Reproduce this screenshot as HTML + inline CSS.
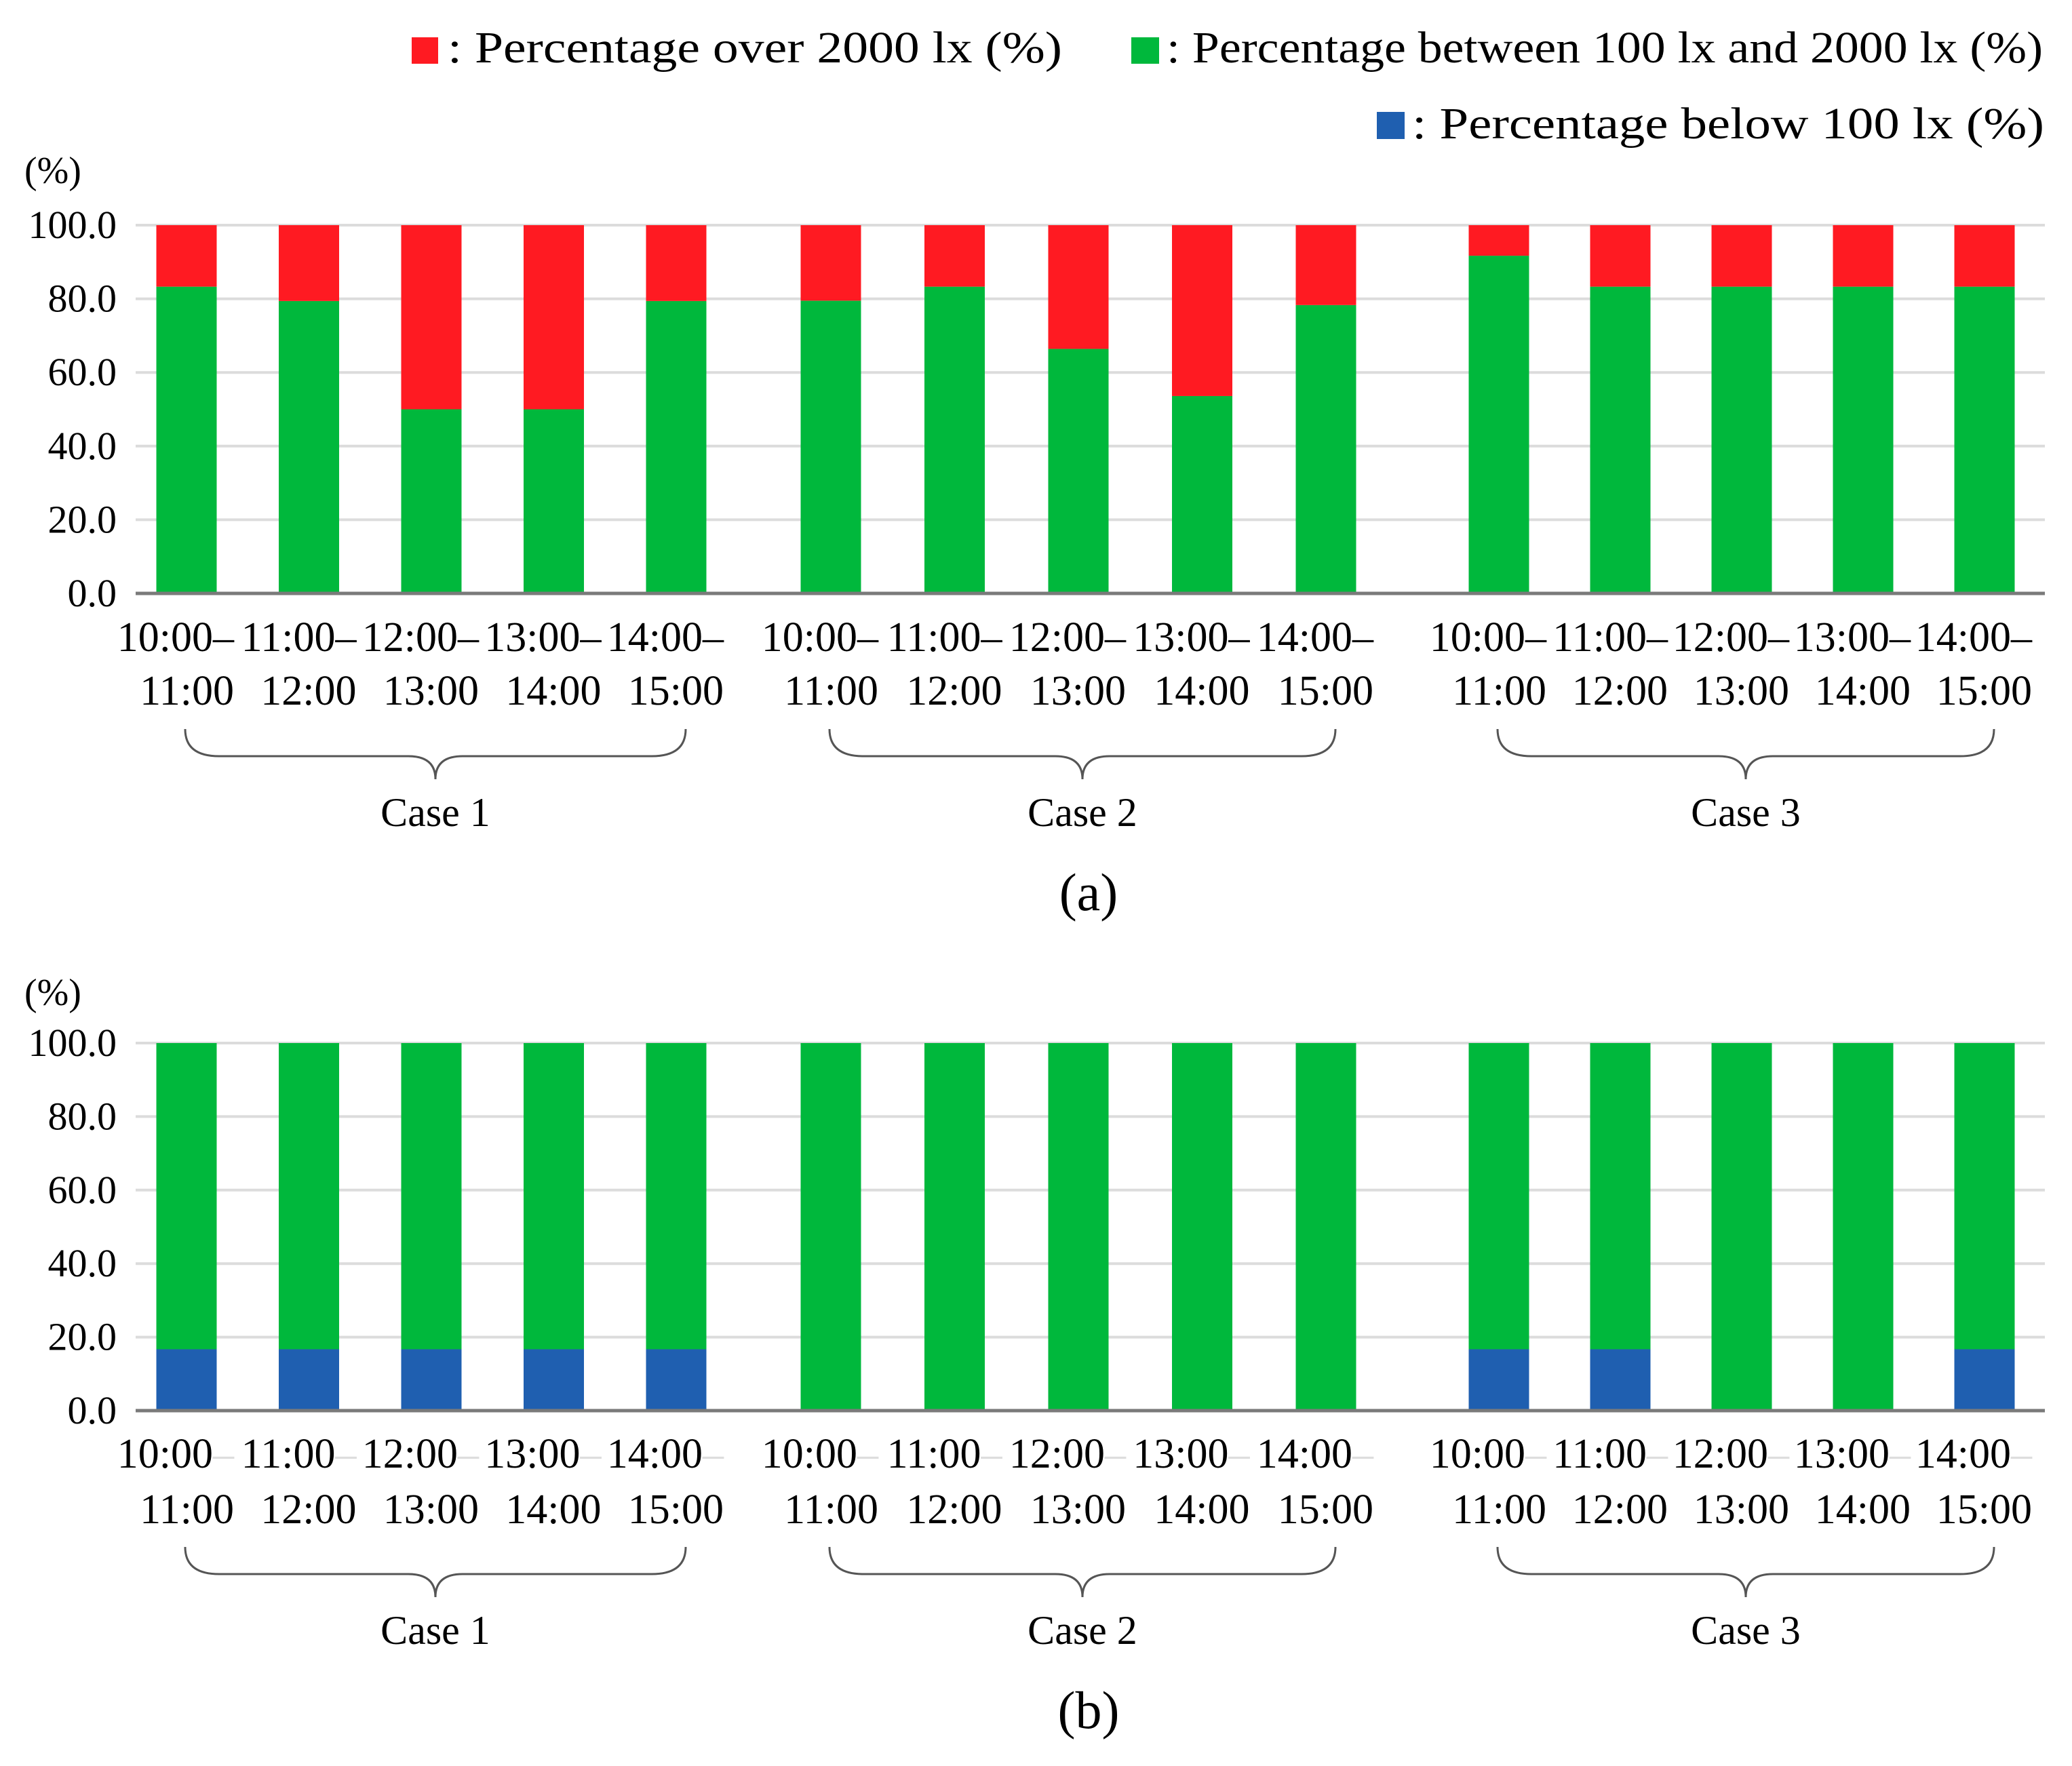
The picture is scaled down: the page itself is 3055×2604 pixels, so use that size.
<!DOCTYPE html>
<html><head><meta charset="utf-8"><style>
html,body{margin:0;padding:0;background:#fff;}
svg{display:block;font-family:"Liberation Serif",serif;}
</style></head><body>
<svg id="chart" width="3055" height="2604" viewBox="0 0 3055 2604" xmlns="http://www.w3.org/2000/svg">
<g>
 <rect x="607" y="55" width="39" height="39" fill="#ff1a22"/>
 <text x="660" y="92" font-size="66" textLength="906" lengthAdjust="spacingAndGlyphs">: Percentage over 2000 lx (%)</text>
 <rect x="1668" y="55" width="41" height="39" fill="#00b83c"/>
 <text x="1720" y="92" font-size="66" textLength="1292" lengthAdjust="spacingAndGlyphs">: Percentage between 100 lx and 2000 lx (%)</text>
 <rect x="2030" y="165" width="41" height="40" fill="#1f5fb0"/>
 <text x="2082" y="204" font-size="66" textLength="932" lengthAdjust="spacingAndGlyphs">: Percentage below 100 lx (%)</text>
</g>
</svg>
<script>
const categories = ["10:00","11:00","12:00","13:00","14:00"];
const categoryEnds = ["11:00","12:00","13:00","14:00","15:00"];
const caseNames = ["Case 1","Case 2","Case 3"];
const yTicks = [0,20,40,60,80,100];
const yTickLabels = ["0.0","20.0","40.0","60.0","80.0","100.0"];
// chart (a): green = between 100 and 2000 lx, red = over 2000 lx (remaining)
const aBetween = [83.3,79.4,50.0,50.0,79.4, 79.5,83.3,66.4,53.6,78.3, 91.7,83.3,83.3,83.3,83.3];
const aOver    = [16.7,20.6,50.0,50.0,20.6, 20.5,16.7,33.6,46.4,21.7, 8.3,16.7,16.7,16.7,16.7];
// chart (b): blue = below 100 lx, green = between
const bBelow   = [16.7,16.7,16.7,16.7,16.7, 0,0,0,0,0, 16.7,16.7,0,0,16.7];
const bBetween = [83.3,83.3,83.3,83.3,83.3, 100,100,100,100,100, 83.3,83.3,100,100,83.3];

const NS="http://www.w3.org/2000/svg";
const svg=document.getElementById('chart');
function mk(tag,attrs,parent){const e=document.createElementNS(NS,tag);for(const k in attrs)e.setAttribute(k,attrs[k]);(parent||svg).appendChild(e);return e;}
const RED="#ff1a22",GREEN="#00b83c",BLUE="#1f5fb0";
const plotX0=200, plotX1=3015, barW=89;
function groupStart(g){return g===0?275:(g===1?1225:2210);}
function groupStep(g){return g===0?180.5:(g===1?182.5:179);}
function xCenter(i){const g=Math.floor(i/5), j=i%5;return groupStart(g)+j*groupStep(g);}

function drawPanel(name,top,bottom,series,colors,lab1Y,lab2Y,braceY,caseY,pctY,dash,panelLabel,panelY){
  const yS=v=>bottom-(v/100)*(bottom-top);
  const g=mk('g',{});
  
  
  const pct=mk('text',{x:36,y:pctY,'font-size':56,'text-anchor':'start'},g);
  
  
  pct.textContent='(%)';
  yTicks.forEach((t,k)=>{
    if(t>0){const gl=mk('line',{x1:plotX0,x2:plotX1,y1:yS(t),y2:yS(t),stroke:'#dcdcdc','stroke-width':4},g);
      
      }
    const tl=mk('text',{x:172,y:yS(t)+19,'font-size':58,'text-anchor':'end'},g);
    
    
    tl.textContent=yTickLabels[k];
  });
  for(let i=0;i<15;i++){
    let base=0;
    series.forEach((arr,s)=>{
      const v=arr[i];
      if(v>0){const r=mk('rect',{x:xCenter(i)-barW/2,y:yS(base+v),width:barW,height:yS(base)-yS(base+v),fill:colors[s]},g);
        
        }
      base+=v;
    });
    const j=i%5;
    const t1=mk('text',{x:xCenter(i)+70,y:lab1Y,'font-size':62,'text-anchor':'end'},g);
    
    
    t1.textContent=categories[j];
    const ds=mk('tspan',{fill:dash},t1);
    ds.textContent='–';
    const t2=mk('text',{x:xCenter(i)+70,y:lab2Y,'font-size':62,'text-anchor':'end'},g);
    
    
    t2.textContent=categoryEnds[j];
  }
  const ax=mk('line',{x1:plotX0,x2:plotX1,y1:bottom,y2:bottom,stroke:'#7a7a7a','stroke-width':5},g);
  
  
  caseNames.forEach((c,k)=>{
    const a=xCenter(k*5)-2, b=xCenter(k*5+4)+14, m=(a+b)/2, y0=braceY, y1=braceY+40, y2=braceY+74;
    const p=mk('path',{d:`M${a},${y0} Q${a},${y1} ${a+50},${y1} L${m-40},${y1} Q${m},${y1} ${m},${y2} Q${m},${y1} ${m+40},${y1} L${b-50},${y1} Q${b},${y1} ${b},${y0}`,fill:'none',stroke:'#555','stroke-width':3},g);
    
    
    const ct=mk('text',{x:m,y:caseY,'font-size':60,'text-anchor':'middle'},g);
    
    
    ct.textContent=c;
  });
  const pl=mk('text',{x:1605,y:panelY,'font-size':78,'text-anchor':'middle'},g);
  
  
  pl.textContent=panelLabel;
}
drawPanel('panel-a',332,875,[aBetween,aOver],[GREEN,RED],960,1039,1075,1218,270,'#000','(a)',1342);
drawPanel('panel-b',1538,2080,[bBelow,bBetween],[BLUE,GREEN],2164,2246,2281,2424,1482,'#ddd','(b)',2548);
</script>
</body></html>
